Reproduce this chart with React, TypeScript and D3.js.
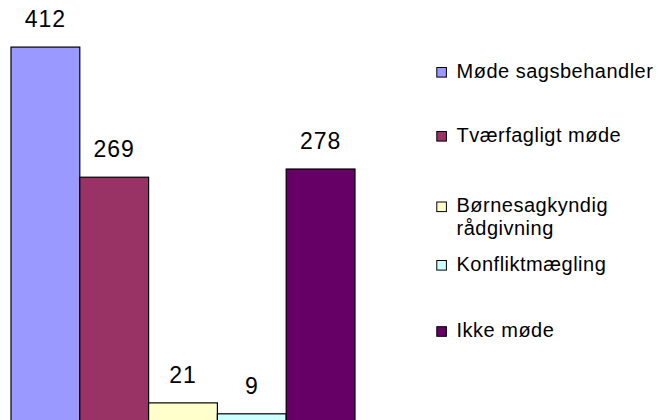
import React from "react";
import * as d3 from "d3";

const categories = [
  "Møde sagsbehandler",
  "Tværfagligt møde",
  "Børnesagkyndig rådgivning",
  "Konfliktmægling",
  "Ikke møde",
];
const values = [412, 269, 21, 9, 278];
const colors = ["#9999FF", "#993366", "#FFFFCC", "#CCFFFF", "#660066"];
const legendLines = [
  ["Møde sagsbehandler"],
  ["Tværfagligt møde"],
  ["Børnesagkyndig", "rådgivning"],
  ["Konfliktmægling"],
  ["Ikke møde"],
];

const W = 659;
const H = 420;

export default function App() {
  const x = d3.scaleBand<string>().domain(categories).range([11, 355]).padding(0);
  const y = d3.scaleLinear().domain([0, 450]).range([422, 12.5]);
  const legendY = [67.5, 131.5, 202, 260.5, 326.7];
  const font = "'Liberation Sans', Arial, sans-serif";

  return (
    <svg
      width={W}
      height={H}
      style={{ position: "absolute", left: 0, top: 0, background: "#fff" }}
      fontFamily={font}
    >
      <rect x={0} y={0} width={W} height={H} fill="#fff" />
      {categories.map((c, i) => (
        <rect
          key={c}
          x={x(c)!}
          y={y(values[i])}
          width={x.bandwidth()}
          height={y(0) - y(values[i])}
          fill={colors[i]}
          stroke="#000"
          strokeWidth={1.2}
        />
      ))}
      {categories.map((c, i) => (
        <text
          key={"l" + c}
          x={x(c)! + x.bandwidth() / 2}
          y={y(values[i]) - 20}
          textAnchor="middle"
          fontSize={23}
          letterSpacing={1}
          fill="#000"
        >
          {values[i]}
        </text>
      ))}
      {categories.map((c, i) => (
        <g key={"g" + c}>
          <rect
            x={436.8}
            y={legendY[i]}
            width={9.6}
            height={9.6}
            fill={colors[i]}
            stroke="#000"
            strokeWidth={1}
          />
          {legendLines[i].map((line, j) => (
            <text
              key={j}
              x={456.5}
              y={legendY[i] + 10.2 + j * 22.5}
              fontSize={20}
              letterSpacing={0.5}
              fill="#000"
            >
              {line}
            </text>
          ))}
        </g>
      ))}
    </svg>
  );
}
